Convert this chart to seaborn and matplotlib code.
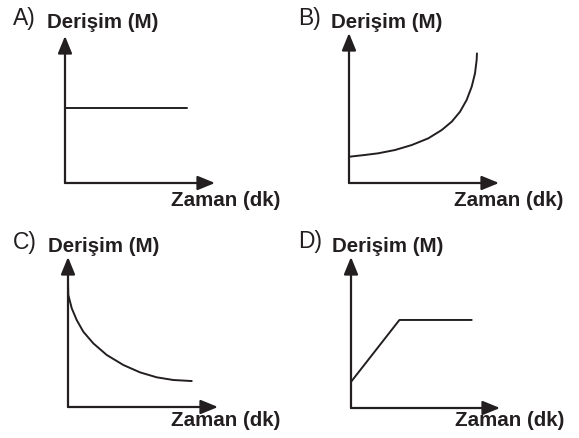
import numpy as np
import pandas as pd
import seaborn as sns
from matplotlib import pyplot as plt

sns.set_style("white")
plt.rcParams['font.family'] = ['Liberation Sans', 'DejaVu Sans']

INK = '#231f20'
W, H = 579, 438

# values (axes go from 0 to 1 in each panel)
a_x = [0.0, 0.81]
a_y = [0.51, 0.51]

b_x = [0.0, 0.107, 0.195, 0.307, 0.418, 0.529, 0.618, 0.685, 0.74, 0.784,
       0.818, 0.84, 0.851, 0.853]
b_y = [0.175, 0.187, 0.198, 0.22, 0.253, 0.298, 0.353, 0.409, 0.475, 0.553,
       0.642, 0.731, 0.82, 0.864]

c_x = [0.0, 0.002, 0.025, 0.058, 0.102, 0.169, 0.258, 0.369, 0.48, 0.591,
       0.702, 0.825]
c_y = [0.83, 0.747, 0.658, 0.58, 0.502, 0.424, 0.347, 0.28, 0.231, 0.198,
       0.18, 0.173]

d_x = [0.0, 0.325, 0.81]
d_y = [0.173, 0.583, 0.583]

letters = ['A)', 'B)', 'C)', 'D)']
y_label = 'Derişim (M)'
x_label = 'Zaman (dk)'

# panel boxes in pixels: origin x, origin y, width, height
boxes = [(65, 183, 150, 147), (349, 183, 150, 150),
         (68, 407, 150, 150), (351, 408, 149, 151)]
series = [(a_x, a_y), (b_x, b_y), (c_x, c_y), (d_x, d_y)]
# text spots: letter (x, y), y label (x, y), x label (x, y)
spots = [((13, 18), (47, 22), (171, 200)),
         ((298, 18), (331, 22), (454, 200)),
         ((13, 242), (48, 247), (171, 421)),
         ((298, 241), (332, 247), (455, 420))]

fig = plt.figure(figsize=(W / 100, H / 100), dpi=100)

for i, ((ox, oy, w, h), (xs, ys), (lt, yl, xl)) in enumerate(zip(boxes, series, spots)):
    ax = fig.add_axes([ox / W, 1 - oy / H, w / W, h / H])
    ax.set_xlim(0, 1)
    ax.set_ylim(0, 1)
    ax.axis('off')
    arrow = dict(arrowstyle='-|>,head_length=1.05,head_width=0.43', color=INK,
                 lw=1.6, shrinkA=0, shrinkB=0)
    ax.annotate('', xy=(1, 0), xytext=(0, 0), xycoords='axes fraction',
                arrowprops=arrow)
    ax.annotate('', xy=(0, 1), xytext=(0, 0), xycoords='axes fraction',
                arrowprops=arrow)
    df = pd.DataFrame({'t': xs, 'c': ys})
    sns.lineplot(data=df, x='t', y='c', ax=ax, color=INK, linewidth=1.4)

    fig.text(lt[0] / W, 1 - lt[1] / H, letters[i], fontsize=16.5,
             color=INK, ha='left', va='center')
    fig.text(yl[0] / W, 1 - yl[1] / H, y_label, fontsize=14.8, fontweight='bold',
             color=INK, ha='left', va='center')
    fig.text(xl[0] / W, 1 - xl[1] / H, x_label, fontsize=14.8, fontweight='bold',
             color=INK, ha='left', va='center')

fig.savefig('out.png', dpi=100)
